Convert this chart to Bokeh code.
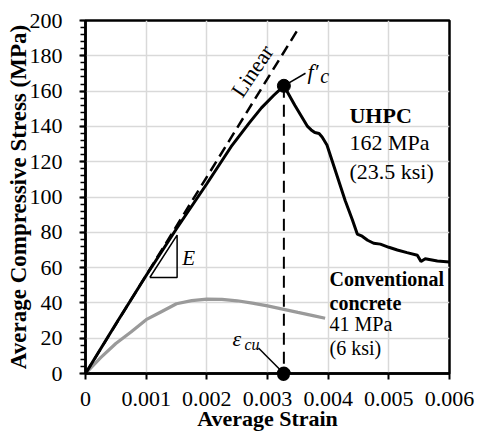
from bokeh.plotting import figure
from bokeh.models import Label, FixedTicker, CustomJSTickFormatter, Range1d
from bokeh.embed import file_html
from bokeh.resources import INLINE

# ---- data ----
x_ticks = [0, 0.001, 0.002, 0.003, 0.004, 0.005, 0.006]
y_ticks = [0, 20, 40, 60, 80, 100, 120, 140, 160, 180, 200]
y_minor = list(range(0, 201, 4))

uhpc_strain = [0, 0.0005, 0.001, 0.0015, 0.002, 0.0024, 0.0027, 0.0029, 0.0031, 0.00327,
               0.00345, 0.00366, 0.00372, 0.00378, 0.00385, 0.0039, 0.00398, 0.00428, 0.0044,
               0.00448, 0.00456, 0.00465, 0.00475, 0.00486, 0.005, 0.00514, 0.0053, 0.00547,
               0.00553, 0.0056, 0.0058, 0.006]
uhpc_stress = [0, 28, 55.5, 82, 107.5, 128.5, 142, 150.5, 157.5, 163,
               152, 140, 138, 136.5, 136, 134, 129.5, 98, 87,
               79, 77.8, 75.5, 73.8, 73.3, 71.5, 70, 68.5, 67,
               63.5, 65, 63.7, 63.2]

conv_strain = [0, 0.00025, 0.0005, 0.00075, 0.001, 0.00125, 0.0015, 0.00175, 0.002, 0.00225,
               0.0025, 0.00275, 0.003, 0.00325, 0.0035, 0.00375, 0.00395]
conv_stress = [0, 9, 17, 23.5, 30.5, 35, 39.5, 41.3, 42.1, 42, 41.2, 39.9, 38.3, 36.5, 34.6, 32.8, 31.3]

linear_strain = [0, 0.00352]
linear_stress = [0, 196]

peak_strain = 0.00327
peak_stress = 163

FONT = "Times New Roman"

p = figure(width=477, height=434,
           x_range=Range1d(0, 0.006), y_range=Range1d(0, 200),
           output_backend="svg", toolbar_location=None,
           min_border_left=85, min_border_top=20, min_border_right=28, min_border_bottom=61)
p.background_fill_color = "white"
p.border_fill_color = "white"
p.outline_line_color = "black"
p.outline_line_width = 2.5

p.xgrid.ticker = FixedTicker(ticks=x_ticks)
p.ygrid.ticker = FixedTicker(ticks=y_ticks)
for g in (p.xgrid, p.ygrid):
    g.grid_line_color = "#d9d9d9"
    g.grid_line_width = 1.5

# the strain-at-peak marker on the x axis is drawn as a round minor tick so it is not cut by the frame
p.xaxis.ticker = FixedTicker(ticks=x_ticks, minor_ticks=[peak_strain])
p.yaxis.ticker = FixedTicker(ticks=y_ticks, minor_ticks=y_minor)
p.xaxis.formatter = CustomJSTickFormatter(code="return tick == 0 ? '0' : tick.toFixed(3);")
for ax in (p.xaxis, p.yaxis):
    ax.axis_line_color = "black"
    ax.axis_line_width = 2.5
    ax.major_tick_line_color = "black"
    ax.major_tick_line_width = 2
    ax.major_tick_in = 0
    ax.major_tick_out = 6
    ax.minor_tick_line_color = "black"
    ax.minor_tick_line_width = 1.5
    ax.minor_tick_in = 0
    ax.minor_tick_out = 5
    ax.major_label_text_font = FONT
    ax.major_label_text_font_size = "22px"
    ax.major_label_text_color = "black"
    ax.axis_label_text_font = FONT
    ax.axis_label_text_font_style = "bold"
    ax.axis_label_text_color = "black"
p.xaxis.minor_tick_line_width = 13
p.xaxis.minor_tick_line_cap = "round"
p.xaxis.minor_tick_in = 0
p.xaxis.minor_tick_out = 1
p.xaxis.axis_label = "Average Strain"
p.yaxis.axis_label = "Average Compressive Stress (MPa)"
p.xaxis.axis_label_text_font_size = "22px"
p.yaxis.axis_label_text_font_size = "23px"
p.xaxis.major_label_standoff = 12
p.yaxis.major_label_standoff = 17
p.xaxis.axis_label_standoff = -3
p.yaxis.axis_label_standoff = -4

# curves
p.line(conv_strain, conv_stress, line_color="#9a9a9a", line_width=3.2)
p.line(linear_strain, linear_stress, line_color="black", line_width=2.5, line_dash="11 6")
p.line(uhpc_strain, uhpc_stress, line_color="black", line_width=3)
p.line([peak_strain, peak_strain], [peak_stress, 0], line_color="black", line_width=2, line_dash="12 7")
p.scatter([peak_strain], [peak_stress], size=13, color="black")
p.scatter([peak_strain], [0], size=13, color="black")

# E triangle
p.line([0.00106, 0.00151, 0.00151, 0.00106], [54.4, 54.4, 78.4, 54.4], line_color="black", line_width=1.5)

# leader lines
p.line([peak_strain, 0.003626], [peak_stress, 170.1], line_color="black", line_width=1.5)
p.line([peak_strain, 0.002851], [0, 14.4], line_color="black", line_width=1.5)

def lab(x, y, text, size, style="normal", align="left", angle=0, baseline="middle", font=FONT):
    p.add_layout(Label(x=x, y=y, text=text, text_font=font, text_font_size=size,
                       text_font_style=style, text_align=align, text_baseline=baseline,
                       angle=angle, angle_units="deg", text_color="black"))

lab(0.002748, 171.4, "Linear", "22px", align="center", angle=56)
lab(0.00366, 171, "f\u2032", "22px", style="italic")
lab(0.00387, 168.5, "c", "20px", style="italic")
lab(0.002423, 19.6, "\u03b5", "22px", style="italic")
lab(0.00262, 16.2, "cu", "16px", style="italic")
lab(0.001594, 65.3, "E", "21px", style="italic")

lab(0.004351, 146, "UHPC", "22px", style="bold")
lab(0.004351, 130.8, "162 MPa", "22px")
lab(0.004351, 114.6, "(23.5 ksi)", "22px")

lab(0.004022, 53.4, "Conventional", "20px", style="bold")
lab(0.004022, 39.9, "concrete", "20px", style="bold")
lab(0.004022, 27.9, "41 MPa", "20px")
lab(0.004022, 14.3, "(6 ksi)", "20px")

open("out.html", "w").write(file_html(p, INLINE))
